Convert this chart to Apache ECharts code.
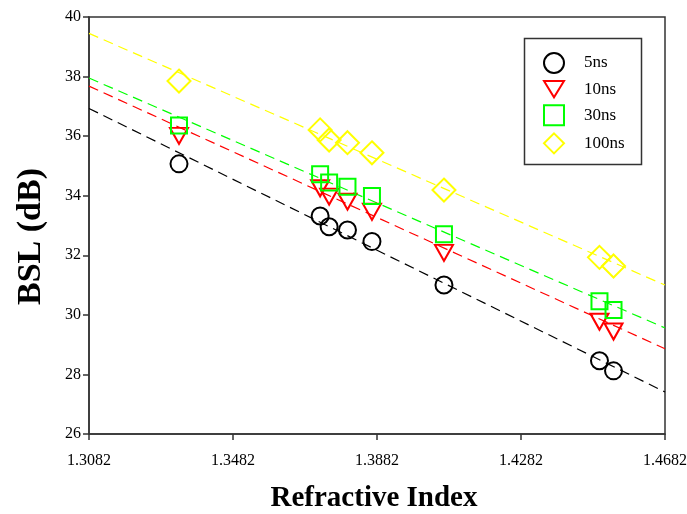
<!DOCTYPE html>
<html>
<head>
<meta charset="utf-8">
<script src="https://cdn.jsdelivr.net/npm/echarts@6/dist/echarts.min.js"></script>
<style>html,body{margin:0;padding:0;background:#fff}#c{width:687px;height:514px}</style>
</head>
<body>
<div id="c"></div>
<script>
// Data
const seriesNames = ['5ns', '10ns', '30ns', '100ns'];
const refractiveIndex = [1.3332, 1.3724, 1.3749, 1.3800, 1.3868, 1.4068, 1.4500, 1.4539];
const bsl5ns   = [35.07, 33.32, 32.96, 32.85, 32.46, 31.00, 28.46, 28.12];
const bsl10ns  = [36.01, 34.25, 33.97, 33.80, 33.46, 32.08, 29.77, 29.44];
const bsl30ns  = [36.36, 34.72, 34.44, 34.30, 33.99, 32.71, 30.46, 30.16];
const bsl100ns = [37.85, 36.21, 35.87, 35.78, 35.44, 34.19, 31.93, 31.64];
// Linear fit lines: [x start, x end] and their BSL at each end
const fitX = [1.3082, 1.4682];
const fit5ns   = [36.93, 27.41];
const fit10ns  = [37.68, 28.86];
const fit30ns  = [37.95, 29.56];
const fit100ns = [39.45, 31.00];
const xTicks = [1.3082, 1.3482, 1.3882, 1.4282, 1.4682];
const yTicks = [26, 28, 30, 32, 34, 36, 38, 40];

const colors = ['#000000', '#ff0000', '#00ff00', '#ffff00'];
const symbols = ['circle', 'triangle', 'rect', 'diamond'];
const sizes = [17, [18, 16], 16, 23];
const rotates = [0, 180, 0, 0];
const legendIcons = ['circle', 'path://M0,0L22,0L11,18Z', 'rect', 'diamond'];
const values = [bsl5ns, bsl10ns, bsl30ns, bsl100ns];
const fits = [fit5ns, fit10ns, fit30ns, fit100ns];

const FONT = '"Liberation Serif", "Times New Roman", serif';

const series = [];
fits.forEach((f, i) => {
  series.push({
    name: 'fit ' + seriesNames[i],
    type: 'line',
    data: fitX.map((x, k) => [x, f[k]]),
    symbol: 'none',
    silent: true,
    z: 1,
    lineStyle: { color: colors[i], width: 1.2, type: [10, 6] }
  });
});
values.forEach((v, i) => {
  series.push({
    name: seriesNames[i],
    type: 'scatter',
    data: refractiveIndex.map((x, k) => [x, v[k]]),
    symbol: symbols[i],
    symbolSize: sizes[i],
    symbolRotate: rotates[i],
    z: 5,
    itemStyle: { color: 'rgba(0,0,0,0)', borderColor: colors[i], borderWidth: 2, opacity: 1 }
  });
});

const chart = echarts.init(document.getElementById('c'), null, { renderer: 'canvas' });
chart.setOption({
  animation: false,
  backgroundColor: '#fff',
  grid: { left: 89, right: 22, top: 17, bottom: 80, containLabel: false, outerBoundsMode: 'none',
          show: true, borderColor: '#333', borderWidth: 1.5, backgroundColor: 'transparent' },
  xAxis: {
    type: 'value',
    min: xTicks[0], max: xTicks[xTicks.length - 1],
    name: 'Refractive Index',
    nameLocation: 'middle',
    nameGap: 50,
    nameTextStyle: { fontFamily: FONT, fontWeight: 'bold', fontSize: 29, color: '#000', padding: [0, 6, 0, 0] },
    axisLine: { show: true, onZero: false, lineStyle: { color: '#333', width: 1.5 } },
    axisTick: { show: true, length: 6, inside: false, customValues: xTicks, lineStyle: { color: '#333', width: 1.5 } },
    axisLabel: { customValues: xTicks, margin: 19, fontFamily: FONT, fontSize: 16, color: '#000', formatter: v => v.toFixed(4) },
    splitLine: { show: false }
  },
  yAxis: {
    type: 'value',
    min: yTicks[0], max: yTicks[yTicks.length - 1], interval: 2,
    name: 'BSL (dB)',
    nameLocation: 'middle',
    nameGap: 41,
    nameRotate: 90,
    nameTextStyle: { fontFamily: FONT, fontWeight: 'bold', fontSize: 34, color: '#000', padding: [0, 22, 0, 0] },
    axisLine: { show: true, onZero: false, lineStyle: { color: '#333', width: 1.5 } },
    axisTick: { show: true, length: 6, inside: false, lineStyle: { color: '#333', width: 1.5 } },
    axisLabel: { margin: 8, fontFamily: FONT, fontSize: 16, color: '#000' },
    splitLine: { show: false }
  },
  legend: {
    data: seriesNames.map((n, i) => ({ name: n, icon: legendIcons[i] })),
    orient: 'vertical',
    left: 522, top: 36,
    padding: [16, 10, 10, 21],
    itemWidth: 20, itemHeight: 20, itemGap: 6,
    textStyle: { fontFamily: FONT, fontSize: 17, color: '#000', padding: [0, 0, 0, 15] },
    selectedMode: false
  },
  graphic: [{
    type: 'rect',
    left: 522, top: 36,
    shape: { width: 117, height: 126 },
    style: { fill: 'none', stroke: '#333', lineWidth: 1.5 },
    z: 100
  }],
  series: series
});
</script>
</body>
</html>
